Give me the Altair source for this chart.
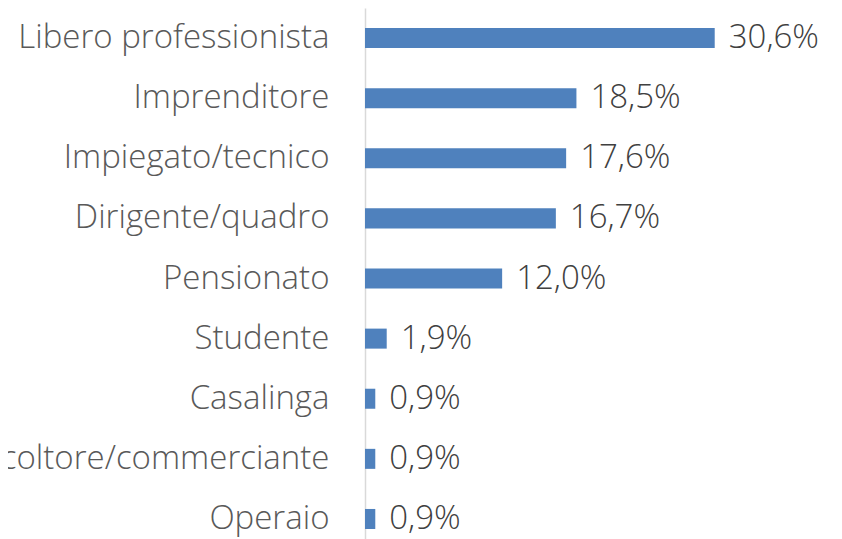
import altair as alt
import pandas as pd

categories = [
    "Libero professionista",
    "Imprenditore",
    "Impiegato/tecnico",
    "Dirigente/quadro",
    "Pensionato",
    "Studente",
    "Casalinga",
    "Agricoltore/commerciante",
    "Operaio",
]
values = [30.6, 18.5, 17.6, 16.7, 12.0, 1.9, 0.9, 0.9, 0.9]

df = pd.DataFrame({
    "cat": categories,
    "val": values,
    "label": [f"{v:.1f}".replace(".", ",") + "%" for v in values],
})

FONT = "Open Sans"

y = alt.Y(
    "cat:N",
    sort=categories,
    title=None,
    scale=alt.Scale(paddingInner=0.667, paddingOuter=0.333),
    axis=alt.Axis(
        ticks=False,
        labelFont=FONT,
        labelFontWeight=300,
        labelFontSize=33,
        labelColor="#595959",
        labelPadding=36,
        labelLimit=0,
        domainColor="#d9d9d9",
        domainWidth=1.5,
        grid=False,
    ),
)
x = alt.X("val:Q", scale=alt.Scale(domain=[0, 35], nice=False), axis=None)

bars = alt.Chart(df).mark_bar(color="#4f81bd").encode(x=x, y=y)
text = alt.Chart(df).mark_text(
    align="left", baseline="middle", dx=14, font=FONT, fontWeight=300,
    fontSize=33, color="#404040",
).encode(x=x, y=y, text="label:N")

chart = (
    alt.layer(bars, text)
    .properties(
        width=400,
        height=541,
        autosize=alt.AutoSizeParams(type="none"),
        padding={"left": 357, "top": 0, "right": 60, "bottom": 0},
    )
    .configure_view(stroke=None)
)

chart.save("out.html", embed_options={"renderer": "svg", "actions": False})
